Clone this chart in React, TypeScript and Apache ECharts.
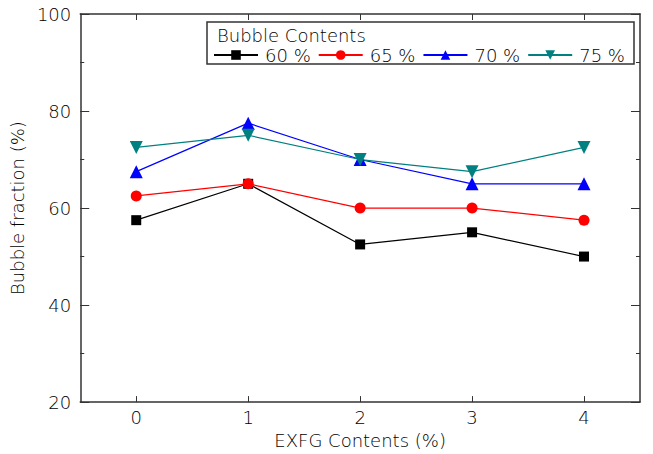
import React, { useEffect, useRef } from "react";
import * as echarts from "echarts";

const categories = ["0", "1", "2", "3", "4"];
const seriesNames = ["60 %", "65 %", "70 %", "75 %"];
const s60 = [57.5, 65, 52.5, 55, 50];
const s65 = [62.5, 65, 60, 60, 57.5];
const s70 = [67.5, 77.5, 70, 65, 65];
const s75 = [72.5, 75, 70, 67.5, 72.5];
const legendTitle = "Bubble Contents";
const xName = "EXFG Contents (%)";
const yName = "Bubble fraction (%)";

const FONT = "'DejaVu Sans', sans-serif";
const FS = 18;
const FW = 200;
const TXT = "#000000";
const AX = "#333";

export default function App() {
  const ref = useRef<HTMLDivElement>(null);
  useEffect(() => {
    if (!ref.current) return;
    const chart = echarts.init(ref.current, undefined, { renderer: "svg" });
    const mk = (name: string, data: number[], color: string, symbol: string, size: number, rotate = 0) => ({
      name,
      type: "line",
      data,
      xAxisIndex: 0,
      yAxisIndex: 0,
      symbol,
      symbolSize: size,
      symbolRotate: rotate,
      itemStyle: { color },
      lineStyle: { color, width: 1.2 },
    });
    chart.setOption({
      animation: false,
      backgroundColor: "#fff",
      textStyle: { fontFamily: FONT, fontWeight: FW },
      grid: { left: 75, top: 14, right: 13, bottom: 50, containLabel: false },
      legend: {
        left: 213,
        top: 45,
        itemWidth: 44,
        itemHeight: 12,
        itemGap: 7,
        padding: 0,
        textStyle: { fontSize: FS, color: TXT, fontFamily: FONT, fontWeight: FW, lineHeight: 20, padding: [0, 0, 0, 2] },
        data: seriesNames,
      },
      graphic: [
        {
          type: "rect",
          shape: { x: 207, y: 22, width: 427, height: 42 },
          style: { fill: "none", stroke: AX, lineWidth: 1.5 },
          z: 100,
        },
        {
          type: "text",
          x: 217,
          y: 35,
          style: { text: legendTitle, fontSize: FS, fill: TXT, fontFamily: FONT, fontWeight: FW, verticalAlign: "middle" },
          z: 100,
        },
      ],
      xAxis: [
        {
          type: "category",
          data: categories,
          boundaryGap: true,
          position: "bottom",
          name: xName,
          nameLocation: "middle",
          nameGap: 24,
          nameTextStyle: { fontSize: FS, color: TXT, fontWeight: FW, verticalAlign: "top" },
          axisLine: { show: true, lineStyle: { color: AX, width: 1.5 } },
          axisTick: { show: true, inside: true, alignWithLabel: true, length: 6, lineStyle: { color: AX } },
          axisLabel: { fontSize: FS, color: TXT, fontWeight: FW, margin: 6 },
          splitLine: { show: false },
        },
        {
          type: "category",
          data: categories,
          boundaryGap: true,
          position: "top",
          axisLine: { show: true, lineStyle: { color: AX, width: 1.5 } },
          axisTick: { show: true, inside: true, alignWithLabel: true, length: 6, lineStyle: { color: AX } },
          axisLabel: { show: false },
          splitLine: { show: false },
        },
      ],
      yAxis: [
        {
          type: "value",
          min: 20,
          max: 100,
          interval: 20,
          position: "left",
          name: yName,
          nameLocation: "middle",
          nameGap: 50,
          nameTextStyle: { fontSize: FS, color: TXT, fontWeight: FW },
          axisLine: { show: true, lineStyle: { color: AX, width: 1.5 } },
          axisTick: { show: true, inside: true, length: 9, lineStyle: { color: AX } },
          minorTick: { show: true, splitNumber: 2, length: 4, lineStyle: { color: AX } },
          axisLabel: { fontSize: FS, color: TXT, fontWeight: FW, margin: 9 },
          splitLine: { show: false },
        },
        {
          type: "value",
          min: 20,
          max: 100,
          interval: 20,
          position: "right",
          axisLine: { show: true, lineStyle: { color: AX, width: 1.5 } },
          axisTick: { show: true, inside: true, length: 9, lineStyle: { color: AX } },
          minorTick: { show: true, splitNumber: 2, length: 4, lineStyle: { color: AX } },
          axisLabel: { show: false },
          splitLine: { show: false },
        },
      ],
      series: [
        mk(seriesNames[0], s60, "#000000", "rect", 10),
        mk(seriesNames[1], s65, "#ff0000", "circle", 11),
        mk(seriesNames[2], s70, "#0000ff", "triangle", 13),
        mk(seriesNames[3], s75, "#008080", "triangle", 13, 180),
      ],
    });
    return () => chart.dispose();
  }, []);
  return <div ref={ref} style={{ width: 653, height: 454, position: "absolute", left: 0, top: 0 }} />;
}
